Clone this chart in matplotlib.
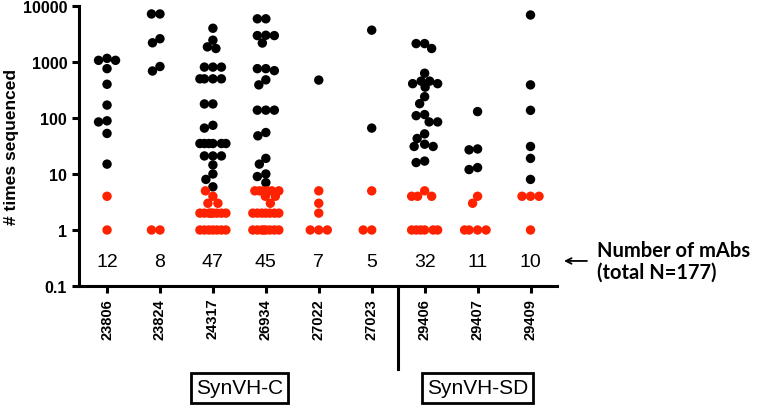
import numpy as np
import matplotlib.pyplot as plt

plt.rcParams['font.family'] = ['Liberation Sans', 'DejaVu Sans']

# clone names and times each mAb sequence was seen
clones = ['23806', '23824', '24317', '26934', '27022', '27023', '29406', '29407', '29409']

c23806 = [1070, 760, 1070, 1160, 400, 170, 85, 89, 53, 15, 4, 1]
c23824 = [7200, 7200, 2200, 2600, 830, 690, 1, 1]
c24317 = [4000, 1860, 1740, 2450, 810, 810, 810, 500, 500, 500, 500, 178, 178,
          66, 74, 35, 35, 35, 35, 35, 35, 21, 21, 21, 14.5, 10, 8, 5.9,
          5, 4, 3, 3, 2, 2, 2, 2, 2, 2, 2, 2, 1, 1, 1, 1, 1, 1, 1]
c26934 = [5900, 5900, 2960, 2960, 3000, 2180, 760, 700, 760, 480, 390, 138, 138, 138,
          55, 48, 19, 15, 9, 10, 7,
          5, 5, 5, 5, 5, 5, 4, 4, 3, 2, 2, 2, 2, 2, 2, 2, 1, 1, 1, 1, 1, 1, 1, 1]
c27022 = [475, 5, 3, 2, 1, 1, 1]
c27023 = [3700, 66, 5, 1, 1]
c29406 = [2130, 1740, 2130, 630, 455, 410, 355, 410, 455, 240, 180, 110, 115, 85, 85,
          52, 43, 31, 31, 34, 16, 17, 5, 4, 4, 4, 1, 1, 1, 1, 1, 1]
c29407 = [130, 28, 27, 12, 13, 4, 3, 1, 1, 1, 1]
c29409 = [6900, 390, 137, 31, 19, 8, 4, 4, 4, 1]

times_seq = [c23806, c23824, c24317, c26934, c27022, c27023, c29406, c29407, c29409]

group_names = ['SynVH-C', 'SynVH-SD']
group_sizes = [6, 3]
red_cutoff = 5   # seen 5 times or fewer -> red

yticks = [0.1, 1, 10, 100, 1000, 10000]
ytick_labels = ['0.1', '1', '10', '100', '1000', '10000']

fig = plt.figure(figsize=(7.58, 4.10), dpi=100)
ax = fig.add_axes([0.1042, 0.30, 0.6306, 0.683])
ax.set_yscale('log')
ax.set_ylim(0.1, 10000)
ax.set_xlim(-0.53, len(clones) - 0.5)


def swarm(vals, x0, dmin=8.5, maxw=13):
    # simple beeswarm in pixel space, kept inside +-maxw px
    vals = np.asarray(vals, dtype=float)
    ypix = ax.transData.transform(np.column_stack([np.full(len(vals), x0), vals]))[:, 1]
    cand = np.arange(-maxw, maxw + 0.25, 0.5)
    cand = cand[np.argsort(np.abs(cand), kind='stable')]
    placed = []
    offs = np.zeros(len(vals))
    for i in np.argsort(-vals, kind='stable'):
        if not placed:
            offs[i] = 0
            placed.append((0.0, ypix[i]))
            continue
        p = np.array(placed)
        d = np.sqrt((cand[:, None] - p[None, :, 0]) ** 2 + (ypix[i] - p[None, :, 1]) ** 2).min(axis=1)
        ok = np.where(d >= dmin)[0]
        k = ok[0] if len(ok) else np.argmax(d)
        offs[i] = cand[k]
        placed.append((cand[k], ypix[i]))
    px_per_unit = ax.transData.transform((1, 1))[0] - ax.transData.transform((0, 1))[0]
    return x0 + offs / px_per_unit


for i, vals in enumerate(times_seq):
    xs = swarm(vals, i)
    cols = ['#ff2200' if v <= red_cutoff else 'black' for v in vals]
    ax.scatter(xs, vals, s=46, c=cols, linewidths=0, zorder=3, clip_on=False)
    ax.text(i, 0.27, str(len(vals)), ha='center', va='center', fontsize=14)

# axes styling
for side in ['top', 'right']:
    ax.spines[side].set_visible(False)
for side in ['left', 'bottom']:
    ax.spines[side].set_linewidth(2.2)
ax.set_yticks(yticks)
ax.set_yticklabels(ytick_labels, fontweight='bold', fontsize=11.5)
ax.minorticks_off()
ax.set_xticks(range(len(clones)))
ax.set_xticklabels(clones, rotation=90, fontweight='bold', fontsize=10.5)
ax.tick_params(length=5, width=2.2, direction='out')
ax.set_ylabel('# times sequenced', fontweight='bold', fontsize=12.5, labelpad=3)

# group separator and boxes
trans = ax.get_xaxis_transform()
sep = group_sizes[0] - 0.5
ax.plot([sep, sep], [0, -0.296], transform=trans, color='black', lw=2.2, clip_on=False)
start = 0
for name, n in zip(group_names, group_sizes):
    ax.text(start + (n - 1) / 2, -0.364, name, transform=trans, ha='center', va='center',
            fontsize=15, bbox=dict(boxstyle='square,pad=0.25', fc='white', ec='black', lw=2))
    start += n

# right-hand note
total = sum(len(v) for v in times_seq)
ax.annotate('', xy=(8.58, 0.28), xytext=(9.12, 0.28),
            arrowprops=dict(arrowstyle='->', lw=1.3, color='black'), annotation_clip=False)
ax.text(9.25, 0.28, 'Number of mAbs\n(total N=%d)' % total, ha='left', va='center',
        fontsize=14.5, fontweight='bold', family=['Lato', 'DejaVu Sans'], linespacing=1.15)

fig.savefig('out.png', dpi=100)
